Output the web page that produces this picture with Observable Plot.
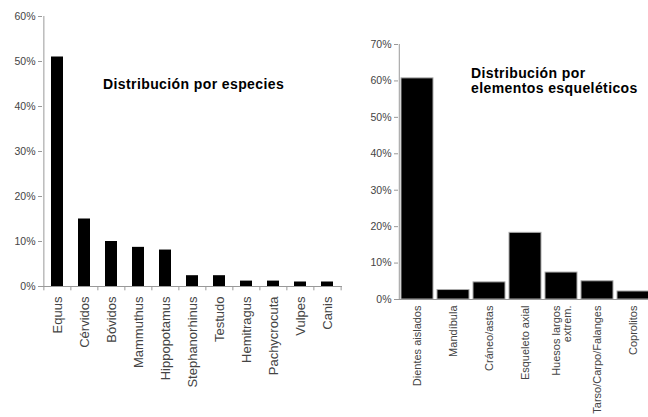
<!DOCTYPE html>
<html>
<head>
<meta charset="utf-8">
<script src="https://cdn.jsdelivr.net/npm/d3@7"></script>
<script src="https://cdn.jsdelivr.net/npm/@observablehq/plot@0.6"></script>
<style>
  html, body { margin: 0; padding: 0; background: #fff; overflow: hidden; width: 648px; height: 417px; }
  #wrap { position: relative; width: 648px; height: 417px; overflow: hidden; font-family: "Liberation Sans", Arial, sans-serif; }
  .panel { position: absolute; top: 0; }
  .panel svg { max-width: none !important; }
  .title { position: absolute; font-family: "Liberation Sans", Arial, sans-serif; font-weight: bold; font-size: 14px; color: #000; line-height: 15px; letter-spacing: 0.4px; white-space: nowrap; }
</style>
</head>
<body>
<div id="wrap">
  <div id="left" class="panel" style="left:0px; width:350px;"></div>
  <div id="right" class="panel" style="left:340px; width:313px;"></div>
  <div class="title" style="left:103px; top:77px;">Distribución por especies</div>
  <div class="title" style="left:471px; top:66px;">Distribución por<br>elementos esqueléticos</div>
</div>
<script>
// Left chart: distribution by species (%)
const species = ["Equus", "Cérvidos", "Bóvidos", "Mammuthus", "Hippopotamus", "Stephanorhinus", "Testudo", "Hemitragus", "Pachycrocuta", "Vulpes", "Canis"];
const speciesPct = [51, 15, 10, 8.7, 8.1, 2.4, 2.4, 1.2, 1.2, 1.0, 1.0];
const leftTicks = [0, 10, 20, 30, 40, 50, 60];

// Right chart: distribution by skeletal element (%)
const elements = ["Dientes aislados", "Mandíbula", "Cráneo/astas", "Esqueleto axial", "Huesos largos\nextrem.", "Tarso/Carpo/Falanges", "Coprolitos"];
const elementsPct = [60.7, 2.6, 4.7, 18.3, 7.4, 5.0, 2.2];
const rightTicks = [0, 10, 20, 30, 40, 50, 60, 70];

const speciesData = species.map((s, i) => ({cat: s, v: speciesPct[i]}));
const elementsData = elements.map((s, i) => ({cat: s, v: elementsPct[i]}));

const pctFmt = d => d + "%";
const axisColor = "#999";
const textColor = "#444";

function chart({data, cats, ticks, width, height, marginLeft, marginRight, marginTop, marginBottom, yMax, paddingInner, paddingOuter, barStroke, boundaryTicks, labelPad, labelSize}) {
  const step = (width - marginLeft - marginRight) / (cats.length - paddingInner + 2 * paddingOuter);
  const marks = [
    Plot.barY(data, {x: "cat", y: "v", fill: "#000", stroke: barStroke || null, strokeWidth: 1}),
    Plot.ruleY([0], {stroke: axisColor, strokeWidth: 1}),
    // vertical y-axis line at the left edge of the first category slot
    Plot.ruleX([cats[0]], {x: d => d, y1: 0, y2: yMax, dx: -step / 2, stroke: axisColor}),
    Plot.axisY({ticks: ticks, tickFormat: pctFmt, tickSize: 4, stroke: axisColor, fill: textColor, fontSize: 10.5, tickPadding: 3, label: null}),
    Plot.axisX({tickSize: 0, tickRotate: -90, fill: textColor, fontSize: labelSize, tickPadding: labelPad, label: null})
  ];
  if (boundaryTicks) {
    marks.push(Plot.ruleX(cats, {x: d => d, y1: 0, y2: -yMax * 0.016, dx: -step / 2, stroke: axisColor}));
    marks.push(Plot.ruleX([cats[cats.length - 1]], {x: d => d, y1: 0, y2: -yMax * 0.016, dx: step / 2, stroke: axisColor}));
  }
  return Plot.plot({
    width, height, marginLeft, marginRight, marginTop, marginBottom,
    style: {fontFamily: "'Liberation Sans', Arial, sans-serif", background: "transparent", overflow: "visible", maxWidth: "none"},
    x: {domain: cats, paddingInner, paddingOuter, axis: null},
    y: {domain: [0, yMax], axis: null},
    marks
  });
}

document.getElementById("left").appendChild(chart({
  data: speciesData, cats: species, ticks: leftTicks,
  width: 350, height: 417, marginLeft: 42, marginRight: 8, marginTop: 16, marginBottom: 131,
  yMax: 60, paddingInner: 0.56, paddingOuter: 0.28, boundaryTicks: true, labelPad: 10, labelSize: 13
}));

document.getElementById("right").appendChild(chart({
  data: elementsData, cats: elements, ticks: rightTicks,
  width: 313, height: 417, marginLeft: 58, marginRight: 0, marginTop: 44, marginBottom: 118,
  yMax: 70, paddingInner: 0.1, paddingOuter: 0.05, barStroke: "#aaa", boundaryTicks: false, labelPad: 6, labelSize: 11
}));
</script>
</body>
</html>
